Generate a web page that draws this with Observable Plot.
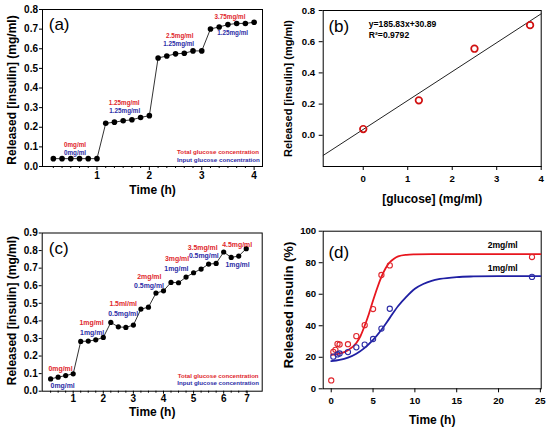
<!DOCTYPE html>
<html><head><meta charset="utf-8">
<script src="https://cdn.jsdelivr.net/npm/d3@7"></script>
<script src="https://cdn.jsdelivr.net/npm/@observablehq/plot@0.6"></script>
<style>
body{margin:0;background:#fff;}
#wrap{position:relative;width:550px;height:431px;overflow:hidden;background:#fff;}
.panel{position:absolute;}
.panel svg{display:block;}
</style></head><body><div id="wrap"></div>
<script>
// ---------- Panel (a) ----------
const timeA = [0.167,0.333,0.5,0.667,0.833,1.0,1.167,1.333,1.5,1.667,1.833,2.0,2.167,2.333,2.5,2.667,2.833,3.0,3.167,3.333,3.5,3.667,3.833,4.0];
const insulinA = [0.04,0.04,0.04,0.04,0.04,0.04,0.22,0.226,0.233,0.238,0.25,0.259,0.553,0.563,0.574,0.577,0.589,0.589,0.701,0.711,0.723,0.729,0.729,0.735];
const yTicksA = [0,0.1,0.2,0.3,0.4,0.5,0.6,0.7,0.8];
const xTicksA = [1,2,3,4];
const labelTextA = ["0mg/ml","0mg/ml","1.25mg/ml","1.25mg/ml","2.5mg/ml","1.25mg/ml","3.75mg/ml","1.25mg/ml"];
const labelKindA = ["total","input","total","input","total","input","total","input"];
const labelXA = [0.58,0.58,1.52,1.53,2.58,2.56,3.54,3.59];
const labelYA = [0.109,0.071,0.324,0.283,0.667,0.625,0.764,0.679];

// ---------- Panel (b) ----------
const glucoseB = [0,1.25,2.5,3.75];
const insulinB = [0.04,0.224,0.555,0.706];
const fitXB = [-0.9,4];
const fitYB = [-0.129,0.779];
const yTicksB = [0,0.2,0.4,0.6,0.8];
const xTicksB = [0,1,2,3,4];

// ---------- Panel (c) ----------
const timeC = [0.25,0.5,0.75,1.0,1.25,1.5,1.75,2.0,2.25,2.5,2.75,3.0,3.25,3.5,3.75,4.0,4.25,4.5,4.75,5.0,5.25,5.5,5.75,6.0,6.25,6.5,6.75];
const insulinC = [0.07,0.08,0.089,0.099,0.283,0.285,0.292,0.306,0.391,0.366,0.363,0.376,0.467,0.478,0.558,0.571,0.619,0.617,0.649,0.674,0.695,0.723,0.727,0.792,0.761,0.769,0.811];
const yTicksC = [0,0.1,0.2,0.3,0.4,0.5,0.6,0.7,0.8,0.9];
const xTicksC = [1,2,3,4,5,6,6.78];
const xTickLabelsC = ["1","2","3","4","5","6","7"];
const labelTextC = ["0mg/ml","0mg/ml","1mg/ml","1mg/ml","1.5ml/ml","0.5mg/ml","2mg/ml","0.5mg/ml","3mg/ml","1mg/ml","3.5mg/ml","0.5mg/ml","4.5mg/ml","1mg/ml"];
const labelKindC = ["total","input","total","input","total","input","total","input","total","input","total","input","total","input"];
const labelXC = [0.58,0.65,1.61,1.63,2.66,2.66,3.53,3.52,4.45,4.43,5.3,5.34,6.45,6.46];
const labelYC = [0.127,0.032,0.392,0.335,0.495,0.438,0.652,0.599,0.753,0.698,0.818,0.773,0.833,0.721];

// ---------- Panel (d) ----------
const timeRedD = [0,0.25,0.5,0.75,1,2,3,4,5,6,7,24];
const releaseRedD = [5.3,23.4,24.7,28.5,28.1,28.3,33.4,40.4,50.6,72.2,78.3,83.6];
const timeBlueD = [0.25,0.75,1,2,3,4,5,6,7,24];
const releaseBlueD = [20.4,21.8,22.4,23.3,26.3,28.0,31.6,38.2,50.8,71.0];
const curveRedT = [0,1,2,3,3.5,4,4.5,5,5.5,6,6.5,7,7.5,8,9,10,12,15,20,25];
const curveRedV = [21.5,22.3,24.5,29,33.5,40,47.5,56,64,71,76.5,80.3,82.5,84,85,85.3,85.5,85.5,85.5,85.5];
const curveBlueT = [0,1,2,3,4,5,6,7,8,9,10,11,12,13,15,17,20,25];
const curveBlueV = [17.5,18.3,19.8,22.3,26,31,37.5,45,52.5,58.5,63.5,66.5,68.5,69.7,70.9,71.3,71.5,71.5];
const yTicksD = [0,20,40,60,80,100];
const xTicksD = [0,5,10,15,20,25];

// ---------- rendering ----------
const FONT = "'Liberation Sans', Arial, Helvetica, sans-serif";
const RED = "#e0262c";
const BLUE = "#2c2ca6";
const kindColor = k => k === "total" ? RED : BLUE;
const zip = (xs, ys) => xs.map((x, i) => ({x, y: ys[i]}));
const lab = (txt, kinds, xs, ys) => txt.map((t, i) => ({t, k: kinds[i], x: xs[i], y: ys[i]}));
const range = (a, b, s) => { const out = []; for (let v = a; v <= b + 1e-9; v += s) out.push(+v.toFixed(4)); return out; };

function baseStyle(fs) {
  return {fontFamily: FONT, fontSize: fs + "px", fontWeight: "bold", background: "transparent", overflow: "visible", color: "black"};
}
function xTitle(txt, dy, fs) {
  return Plot.text([txt], {frameAnchor: "bottom", textAnchor: "middle", lineAnchor: "middle", dy, fontSize: fs, fontWeight: "bold", fill: "black"});
}
function yTitle(txt, dx, dy, fs) {
  return Plot.text([txt], {frameAnchor: "left", textAnchor: "middle", lineAnchor: "middle", dx, dy, rotate: -90, fontSize: fs, fontWeight: "bold", fill: "black"});
}

const wrap = document.getElementById("wrap");
function place(svg, left, top) {
  const d = document.createElement("div");
  d.className = "panel";
  d.style.left = left + "px";
  d.style.top = top + "px";
  d.appendChild(svg);
  wrap.appendChild(d);
}

// Panel (a)
const minorA = range(1/6, 4, 1/6).filter(v => Math.abs(v - Math.round(v)) > 0.01);
const plotA = Plot.plot({
  width: 275, height: 215,
  marginLeft: 42, marginRight: 13, marginTop: 9, marginBottom: 49,
  style: baseStyle(10),
  x: {domain: [-0.04, 4.16], label: null},
  y: {domain: [0, 0.8], label: null},
  marks: [
    Plot.axisY(yTicksA, {tickSize: 3, tickPadding: 1.5, tickFormat: d => d.toFixed(1), label: null}),
    Plot.axisX(xTicksA, {tickSize: 4, tickPadding: 1, tickFormat: d => String(d), label: null}),
    Plot.axisX(minorA, {tickSize: 2, fill: "none", stroke: "black", label: null}),
    Plot.frame({stroke: "black", strokeWidth: 1}),
    Plot.line(zip(timeA, insulinA), {x: "x", y: "y", stroke: "#333", strokeWidth: 1}),
    Plot.dot(zip(timeA, insulinA), {x: "x", y: "y", r: 2.8, fill: "black", stroke: "none"}),
    Plot.text(lab(labelTextA, labelKindA, labelXA, labelYA), {x: "x", y: "y", text: "t", fill: d => kindColor(d.k), fontSize: 6.3, fontWeight: "bold"}),
    Plot.text(["Total glucose concentration"], {x: 4.095, y: 0.0715, textAnchor: "end", fill: RED, fontSize: 6.2, fontWeight: "bold"}),
    Plot.text(["Input glucose concentration"], {x: 4.11, y: 0.034, textAnchor: "end", fill: BLUE, fontSize: 6.2, fontWeight: "bold"}),
    Plot.text(["(a)"], {x: 0.277, y: 0.723, fontSize: 17, fontWeight: "normal", fill: "black"}),
    xTitle("Time (h)", 23.3, 12),
    yTitle("Released [insulin] (mg/ml)", -30, 2, 12)
  ]
});
place(plotA, 0, 0);

// Panel (b)
const plotB = Plot.plot({
  width: 275, height: 215,
  marginLeft: 47.7, marginRight: 9.3, marginTop: 10, marginBottom: 49,
  style: baseStyle(9.6),
  x: {domain: [-0.9, 4], label: null},
  y: {domain: [-0.2, 0.8], label: null},
  marks: [
    Plot.axisY(yTicksB, {tickSize: 4, tickPadding: 4, tickFormat: d => d.toFixed(1), label: null}),
    Plot.axisX(xTicksB, {tickSize: 4, tickPadding: 5, tickFormat: d => String(d), label: null}),
    Plot.frame({stroke: "black", strokeWidth: 1}),
    Plot.line(zip(fitXB, fitYB), {x: "x", y: "y", stroke: "#222", strokeWidth: 1}),
    Plot.dot(zip(glucoseB, insulinB), {x: "x", y: "y", r: 3.3, fill: "none", stroke: "#d01010", strokeWidth: 1.7}),
    Plot.text(["y=185.83x+30.89"], {x: 0.125, y: 0.715, textAnchor: "start", fontSize: 8.6, fontWeight: "bold", fill: "black"}),
    Plot.text(["R²=0.9792"], {x: 0.125, y: 0.644, textAnchor: "start", fontSize: 8.6, fontWeight: "bold", fill: "black"}),
    Plot.text(["(b)"], {x: -0.55, y: 0.697, fontSize: 17, fontWeight: "normal", fill: "black"}),
    xTitle("[glucose] (mg/ml)", 33, 12),
    yTitle("Released [insulin] (mg/ml)", -35, 0, 11)
  ]
});
place(plotB, 275, 0);

// Panel (c)
const minorC = range(0.25, 7, 0.25).filter(v => Math.abs(v - Math.round(v)) > 0.01);
const tickLabelC = new Map(xTicksC.map((v, i) => [v, xTickLabelsC[i]]));
const plotC = Plot.plot({
  width: 275, height: 216,
  marginLeft: 41.7, marginRight: 13.3, marginTop: 17.5, marginBottom: 40.3,
  style: baseStyle(10),
  x: {domain: [-0.03, 7.28], label: null},
  y: {domain: [0, 0.9], label: null},
  marks: [
    Plot.axisY(yTicksC, {tickSize: 3, tickPadding: 1.5, tickFormat: d => d.toFixed(1), label: null}),
    Plot.axisX(xTicksC, {tickSize: 3, tickPadding: 1, tickFormat: d => tickLabelC.get(d), label: null}),
    Plot.axisX(minorC, {tickSize: 2, fill: "none", stroke: "black", label: null}),
    Plot.frame({stroke: "black", strokeWidth: 1}),
    Plot.line(zip(timeC, insulinC), {x: "x", y: "y", stroke: "#333", strokeWidth: 1}),
    Plot.dot(zip(timeC, insulinC), {x: "x", y: "y", r: 2.6, fill: "black", stroke: "none"}),
    Plot.text(lab(labelTextC, labelKindC, labelXC, labelYC), {x: "x", y: "y", text: "t", fill: d => kindColor(d.k), fontSize: 6.9, fontWeight: "bold"}),
    Plot.text(["Total glucose concentration"], {x: 7.16, y: 0.088, textAnchor: "end", fill: RED, fontSize: 6.1, fontWeight: "bold"}),
    Plot.text(["Input glucose concentration"], {x: 7.17, y: 0.045, textAnchor: "end", fill: BLUE, fontSize: 6.1, fontWeight: "bold"}),
    Plot.text(["(c)"], {x: 0.52, y: 0.813, fontSize: 17, fontWeight: "normal", fill: "black"}),
    xTitle("Time (h)", 21, 12),
    yTitle("Released [insulin] (mg/ml)", -30, -1.5, 12)
  ]
});
place(plotC, 0, 215);

// Panel (d)
const plotD = Plot.plot({
  width: 275, height: 216,
  marginLeft: 47.7, marginRight: 9.3, marginTop: 15.7, marginBottom: 42.7,
  style: baseStyle(9.6),
  x: {domain: [-0.96, 25.1], label: null},
  y: {domain: [0, 100], label: null},
  marks: [
    Plot.axisY(yTicksD, {tickSize: 4, tickPadding: 3, tickFormat: d => String(d), label: null}),
    Plot.axisX(xTicksD, {tickSize: 4, tickPadding: 4, tickFormat: d => String(d), label: null}),
    Plot.frame({stroke: "black", strokeWidth: 1}),
    Plot.line(zip(curveRedT, curveRedV), {x: "x", y: "y", stroke: "#e8161e", strokeWidth: 1.8, curve: "monotone-x"}),
    Plot.line(zip(curveBlueT, curveBlueV), {x: "x", y: "y", stroke: "#1f1fa3", strokeWidth: 1.8, curve: "monotone-x"}),
    Plot.dot(zip(timeRedD, releaseRedD), {x: "x", y: "y", r: 2.6, fill: "none", stroke: "#e0262c", strokeWidth: 1.1}),
    Plot.dot(zip(timeBlueD, releaseBlueD), {x: "x", y: "y", r: 2.6, fill: "none", stroke: "#2c2ca6", strokeWidth: 1.1}),
    Plot.text(["2mg/ml"], {x: 20.5, y: 91.4, fontSize: 8.6, fontWeight: "bold", fill: "black"}),
    Plot.text(["1mg/ml"], {x: 20.5, y: 76.5, fontSize: 8.6, fontWeight: "bold", fill: "black"}),
    Plot.text(["(d)"], {x: 0.91, y: 86.7, fontSize: 17, fontWeight: "normal", fill: "black"}),
    xTitle("Time (h)", 31.7, 12),
    yTitle("Released insulin (%)", -34.4, -5, 13)
  ]
});
place(plotD, 275, 215);
</script>
</body></html>
